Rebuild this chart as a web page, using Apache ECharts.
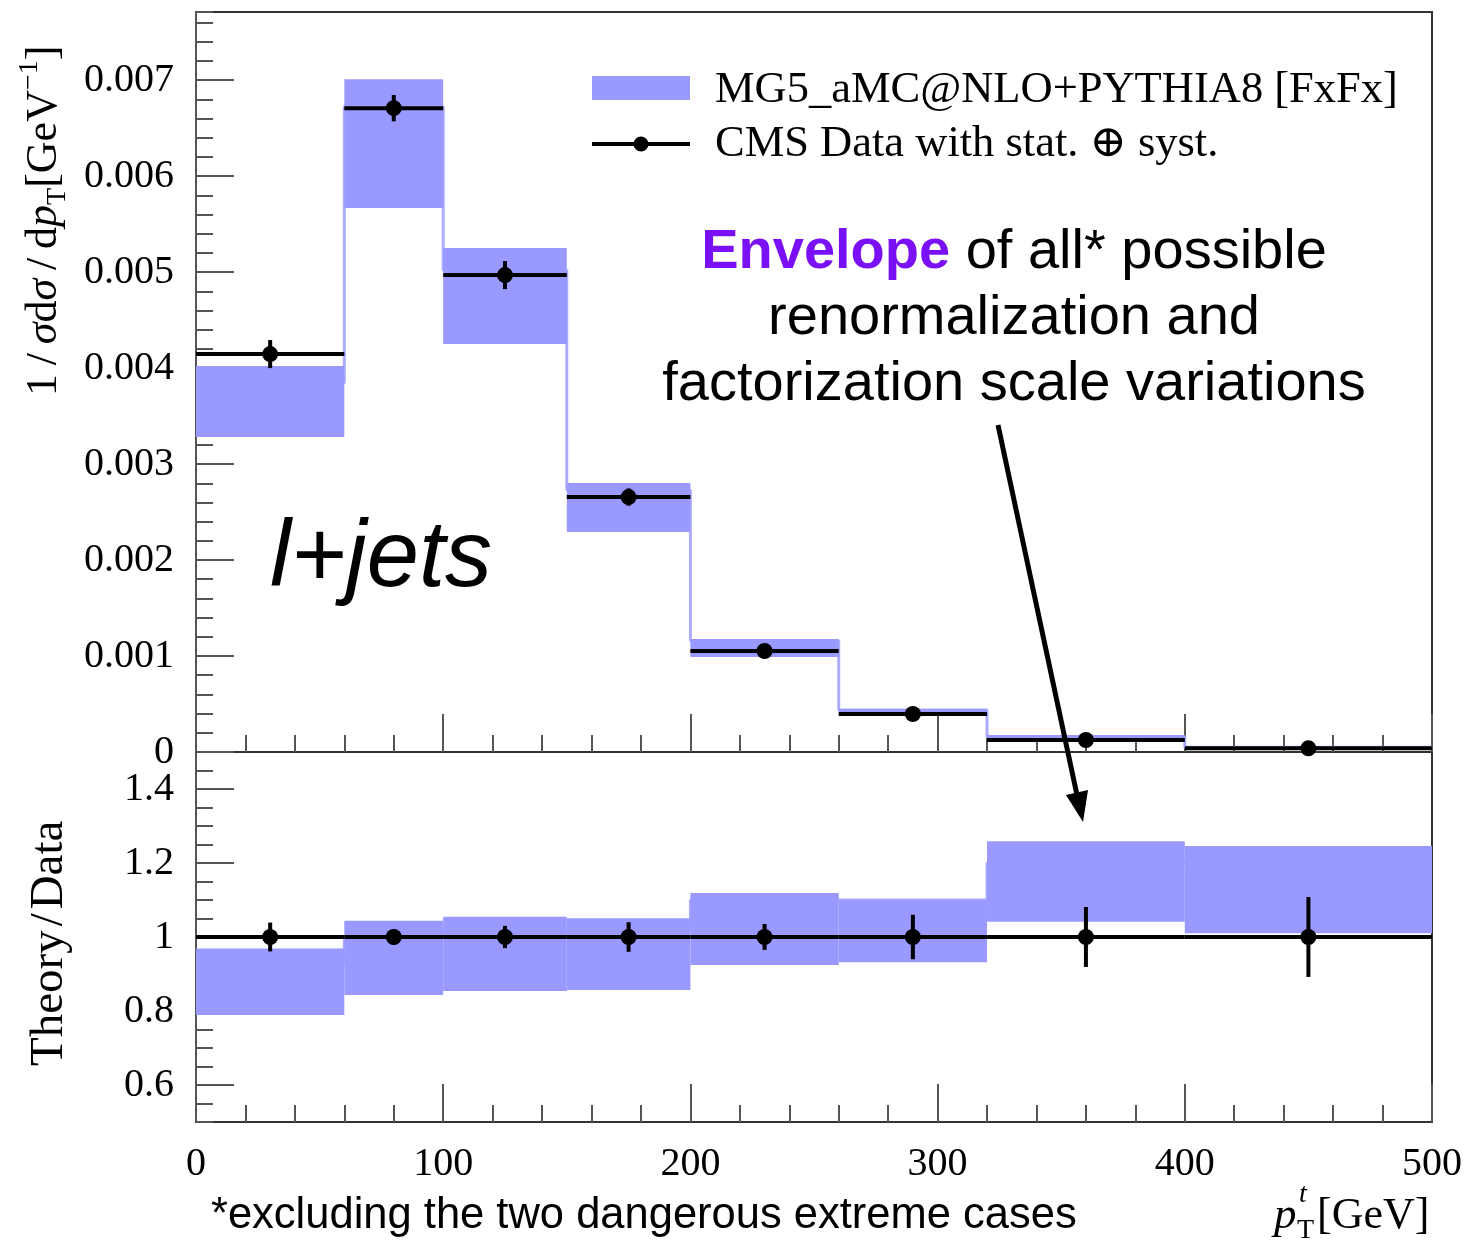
<!DOCTYPE html>
<html>
<head>
<meta charset="utf-8">
<script src="https://cdn.jsdelivr.net/npm/echarts@6/dist/echarts.min.js"></script>
<style>
  html, body { margin: 0; padding: 0; background: #fff; }
  #chart { width: 1468px; height: 1245px; }
</style>
</head>
<body>
<div id="chart"></div>
<script>
// Top-quark pT spectrum (l+jets): data vs. MG5_aMC@NLO+PYTHIA8 scale envelope

// bins in pT [GeV]
const binLo  = [0, 60, 100, 150, 200, 260, 320, 400];
const binHi  = [60, 100, 150, 200, 260, 320, 400, 500];
const binMid = [30, 80, 125, 175, 230, 290, 360, 450];

// normalised cross section 1/sigma dsigma/dpT [GeV^-1]
const dataVal = [0.004146, 0.006708, 0.004969, 0.002656, 0.001052, 0.000396, 0.000125, 0.0000385];
const dataErr = [0.000146, 0.000137, 0.000146, 0.00009, 0.00004, 0.000024, 0.00001, 0.000004];
const envLo   = [0.003281, 0.005667, 0.00425, 0.002292, 0.00099, 0.000385, 0.000115, 0.00003];
const envHi   = [0.004021, 0.00701, 0.00525, 0.002802, 0.001177, 0.000448, 0.000177, 0.0000625];
const nominal = [0.003844, 0.006722, 0.00502, 0.00273, 0.00116, 0.000437, 0.000156, 0.00005];

// ratio panel Theory/Data
const ratioVal     = [1, 1, 1, 1, 1, 1, 1, 1];
const ratioErr     = [0.039, 0.02, 0.03, 0.04, 0.035, 0.06, 0.081, 0.108];
const ratioEnvLo   = [0.789, 0.843, 0.854, 0.857, 0.924, 0.932, 1.041, 1.010];
const ratioEnvHi   = [0.969, 1.044, 1.055, 1.051, 1.119, 1.100, 1.259, 1.246];
const ratioNominal = [0.926, 1.0, 1.01, 1.02, 1.1, 1.1, 1.2, 1.2];

// axis ticks / labels
const xTickLabels   = [0, 100, 200, 300, 400, 500];
const yTopTicks     = [0, 0.001, 0.002, 0.003, 0.004, 0.005, 0.006, 0.007];
const yRatioTicks   = [0.6, 0.8, 1, 1.2, 1.4];
const yTopMax = 0.00771;

const BAND = '#9999ff';
const NOMINAL = '#acacff';
const SERIF = "'Liberation Serif', 'DejaVu Serif', serif";
const SANS = "'Liberation Sans', Arial, Helvetica, sans-serif";
const TICK = '#555';
const LINE = '#333';

function renderBand(params, api) {
  const p1 = api.coord([api.value(0), api.value(3)]);
  const p2 = api.coord([api.value(1), api.value(2)]);
  return {
    type: 'rect',
    shape: { x: p1[0], y: p1[1], width: p2[0] - p1[0], height: p2[1] - p1[1] },
    style: { fill: BAND }
  };
}

function renderPoint(params, api) {
  const lo = api.value(0), hi = api.value(1), mid = api.value(2);
  const v = api.value(3), e = api.value(4);
  const a = api.coord([lo, v]), b = api.coord([hi, v]), c = api.coord([mid, v]);
  const t = api.coord([mid, v + e]), d = api.coord([mid, v - e]);
  return {
    type: 'group',
    children: [
      { type: 'line', shape: { x1: a[0], y1: a[1], x2: b[0], y2: b[1] }, style: { stroke: '#000', lineWidth: 4 } },
      { type: 'line', shape: { x1: t[0], y1: t[1], x2: d[0], y2: d[1] }, style: { stroke: '#000', lineWidth: 4 } },
      { type: 'circle', shape: { cx: c[0], cy: c[1], r: 8 }, style: { fill: '#000' } }
    ]
  };
}

function stepData(vals) {
  const out = binLo.map((lo, i) => [lo, vals[i]]);
  out.push([binHi[binHi.length - 1], vals[vals.length - 1]]);
  return out;
}

function xAxisCfg(gridIndex, showLabels) {
  return {
    type: 'value', gridIndex, min: 0, max: 500, interval: 100,
    axisLine: { show: true, onZero: false, lineStyle: { color: LINE, width: 2 } },
    axisTick: { show: true, inside: true, length: 38, lineStyle: { color: TICK, width: 2 } },
    minorTick: { show: true, splitNumber: 5, length: 17, lineStyle: { color: TICK, width: 2 } },
    splitLine: { show: false }, minorSplitLine: { show: false },
    axisLabel: {
      show: showLabels, margin: 22, color: '#000', fontSize: 40, fontFamily: SERIF,
      showMinLabel: true, showMaxLabel: true, customValues: xTickLabels
    }
  };
}

function minorY(gridIndex, min, max, step) {
  return {
    type: 'value', gridIndex, min, max, interval: step, position: 'left',
    axisLine: { show: true, onZero: false, lineStyle: { color: TICK, width: 2 } },
    axisTick: { show: true, inside: true, length: 17, lineStyle: { color: TICK, width: 2 } },
    axisLabel: { show: false },
    splitLine: { show: false }
  };
}

function majorY(gridIndex, min, max, ticks, fmt) {
  return {
    type: 'value', gridIndex, min, max, position: 'left',
    axisLine: { show: false },
    axisTick: { show: true, inside: true, length: 38, customValues: ticks, lineStyle: { color: TICK, width: 2 } },
    axisLabel: {
      show: true, margin: 22, color: '#000', fontSize: 40, fontFamily: SERIF,
      customValues: ticks, formatter: fmt, showMinLabel: true, showMaxLabel: true
    },
    splitLine: { show: false }
  };
}

const chart = echarts.init(document.getElementById('chart'), null, { renderer: 'canvas' });

const option = {
  backgroundColor: '#fff',
  animation: false,
  grid: [
    { left: 196, top: 12, width: 1236, height: 740, show: true, borderColor: LINE, borderWidth: 2, containLabel: false, outerBoundsMode: 'none' },
    { left: 196, top: 752, width: 1236, height: 370, show: true, borderColor: LINE, borderWidth: 2, containLabel: false, outerBoundsMode: 'none' }
  ],
  xAxis: [xAxisCfg(0, false), xAxisCfg(1, true)],
  yAxis: [
    minorY(0, 0, yTopMax, 0.0002),
    majorY(0, 0, yTopMax, yTopTicks, v => (v === 0 ? '0' : v.toFixed(3))),
    minorY(1, 0.5, 1.5, 0.05),
    majorY(1, 0.5, 1.5, yRatioTicks, v => (Math.abs(v - 1) < 1e-9 ? '1' : v.toFixed(1)))
  ],
  series: [
    {
      type: 'line', name: 'nominal', xAxisIndex: 0, yAxisIndex: 0, step: 'end',
      data: stepData(nominal), showSymbol: false, silent: true, z: 1,
      lineStyle: { color: NOMINAL, width: 3 }
    },
    {
      type: 'custom', name: 'MG5_aMC@NLO+PYTHIA8 [FxFx]', xAxisIndex: 0, yAxisIndex: 0, z: 2,
      renderItem: renderBand, silent: true,
      data: binLo.map((lo, i) => [lo, binHi[i], envLo[i], envHi[i]])
    },
    {
      type: 'custom', name: 'CMS Data', xAxisIndex: 0, yAxisIndex: 0, z: 5,
      renderItem: renderPoint, silent: true,
      data: binLo.map((lo, i) => [lo, binHi[i], binMid[i], dataVal[i], dataErr[i]])
    },
    {
      type: 'line', name: 'nominal ratio', xAxisIndex: 1, yAxisIndex: 2, step: 'end',
      data: stepData(ratioNominal), showSymbol: false, silent: true, z: 1,
      lineStyle: { color: NOMINAL, width: 3 }
    },
    {
      type: 'custom', name: 'ratio envelope', xAxisIndex: 1, yAxisIndex: 2, z: 2,
      renderItem: renderBand, silent: true,
      data: binLo.map((lo, i) => [lo, binHi[i], ratioEnvLo[i], ratioEnvHi[i]])
    },
    {
      type: 'custom', name: 'ratio data', xAxisIndex: 1, yAxisIndex: 2, z: 5,
      renderItem: renderPoint, silent: true,
      data: binLo.map((lo, i) => [lo, binHi[i], binMid[i], ratioVal[i], ratioErr[i]])
    }
  ],
  graphic: [
    // legend
    { type: 'rect', shape: { x: 592, y: 76, width: 98, height: 24 }, style: { fill: BAND }, z: 10 },
    { type: 'line', shape: { x1: 592, y1: 144, x2: 690, y2: 144 }, style: { stroke: '#000', lineWidth: 4 }, z: 10 },
    { type: 'circle', shape: { cx: 641, cy: 144, r: 7.5 }, style: { fill: '#000' }, z: 10 },
    {
      type: 'text', x: 715, y: 90, z: 10,
      style: { text: 'MG5_aMC@NLO+PYTHIA8 [FxFx]', font: '44.5px ' + SERIF, fill: '#000',
               textAlign: 'left', textVerticalAlign: 'middle', align: 'left', verticalAlign: 'middle' }
    },
    {
      type: 'text', x: 715, y: 144, z: 10,
      style: { text: 'CMS Data with stat. \u2295 syst.', font: '44.5px ' + SERIF, fill: '#000',
               textAlign: 'left', textVerticalAlign: 'middle', align: 'left', verticalAlign: 'middle' }
    },
    // scale-variation note
    {
      type: 'text', x: 1014, y: 220, z: 10,
      style: {
        text: '{b|Envelope} of all* possible\nrenormalization and\nfactorization scale variations',
        font: '56px ' + SANS, fill: '#000', lineHeight: 66,
        textAlign: 'center', textVerticalAlign: 'top', align: 'center', verticalAlign: 'top',
        rich: {
          b: { fontFamily: SANS, fontSize: 56, fontWeight: 'bold', fill: '#7a10f5', color: '#7a10f5', lineHeight: 66 }
        }
      }
    },
    // arrow to the ratio panel
    { type: 'line', shape: { x1: 998, y1: 425, x2: 1077, y2: 795 }, style: { stroke: '#000', lineWidth: 5 }, z: 10 },
    { type: 'polygon', shape: { points: [[1083, 822], [1088, 790], [1066, 795]] }, style: { fill: '#000' }, z: 10 },
    // channel label
    {
      type: 'text', x: 270, y: 560, z: 10,
      style: { text: 'l+jets', font: 'italic 94px ' + SANS, fill: '#000',
               textAlign: 'left', textVerticalAlign: 'middle', align: 'left', verticalAlign: 'middle' }
    },
    // footnote
    {
      type: 'text', x: 211, y: 1216, z: 10,
      style: { text: '*excluding the two dangerous extreme cases', font: '43.5px ' + SANS, fill: '#000',
               textAlign: 'left', textVerticalAlign: 'middle', align: 'left', verticalAlign: 'middle' }
    },
    // x-axis title p_T^t [GeV]
    {
      type: 'text', x: 1274, y: 1216, z: 10,
      style: { text: 'p', font: 'italic 45px ' + SERIF, fill: '#000',
               textAlign: 'left', textVerticalAlign: 'middle', align: 'left', verticalAlign: 'middle' }
    },
    {
      type: 'text', x: 1299, y: 1195, z: 10,
      style: { text: 't', font: 'italic 28px ' + SERIF, fill: '#000',
               textAlign: 'left', textVerticalAlign: 'middle', align: 'left', verticalAlign: 'middle' }
    },
    {
      type: 'text', x: 1297, y: 1231, z: 10,
      style: { text: 'T', font: '28px ' + SERIF, fill: '#000',
               textAlign: 'left', textVerticalAlign: 'middle', align: 'left', verticalAlign: 'middle' }
    },
    {
      type: 'text', x: 1317, y: 1216, z: 10,
      style: { text: '[GeV]', font: '44px ' + SERIF, fill: '#000',
               textAlign: 'left', textVerticalAlign: 'middle', align: 'left', verticalAlign: 'middle' }
    },
    // y-axis titles
    {
      type: 'text', x: 44, y: 396, rotation: Math.PI / 2, z: 10,
      style: {
        text: '1\u2009/\u2009{i|\u03c3}d{i|\u03c3}\u2009/\u2009d{i|p}{sub|T}[GeV{sup|\u22121}]',
        font: '44px ' + SERIF, fill: '#000', lineHeight: 56,
        textAlign: 'left', textVerticalAlign: 'middle', align: 'left', verticalAlign: 'middle',
        rich: {
          i: { fontFamily: SERIF, fontSize: 44, fontStyle: 'italic', lineHeight: 56 },
          sub: { fontFamily: SERIF, fontSize: 28, lineHeight: 28, verticalAlign: 'bottom' },
          sup: { fontFamily: SERIF, fontSize: 28, lineHeight: 28, verticalAlign: 'top' }
        }
      }
    },
    {
      type: 'text', x: 50, y: 1066, rotation: Math.PI / 2, z: 10,
      style: { text: 'Theory\u200a/\u200aData', font: '47px ' + SERIF, fill: '#000',
               textAlign: 'left', textVerticalAlign: 'middle', align: 'left', verticalAlign: 'middle' }
    }
  ]
};

chart.setOption(option);
</script>
</body>
</html>
